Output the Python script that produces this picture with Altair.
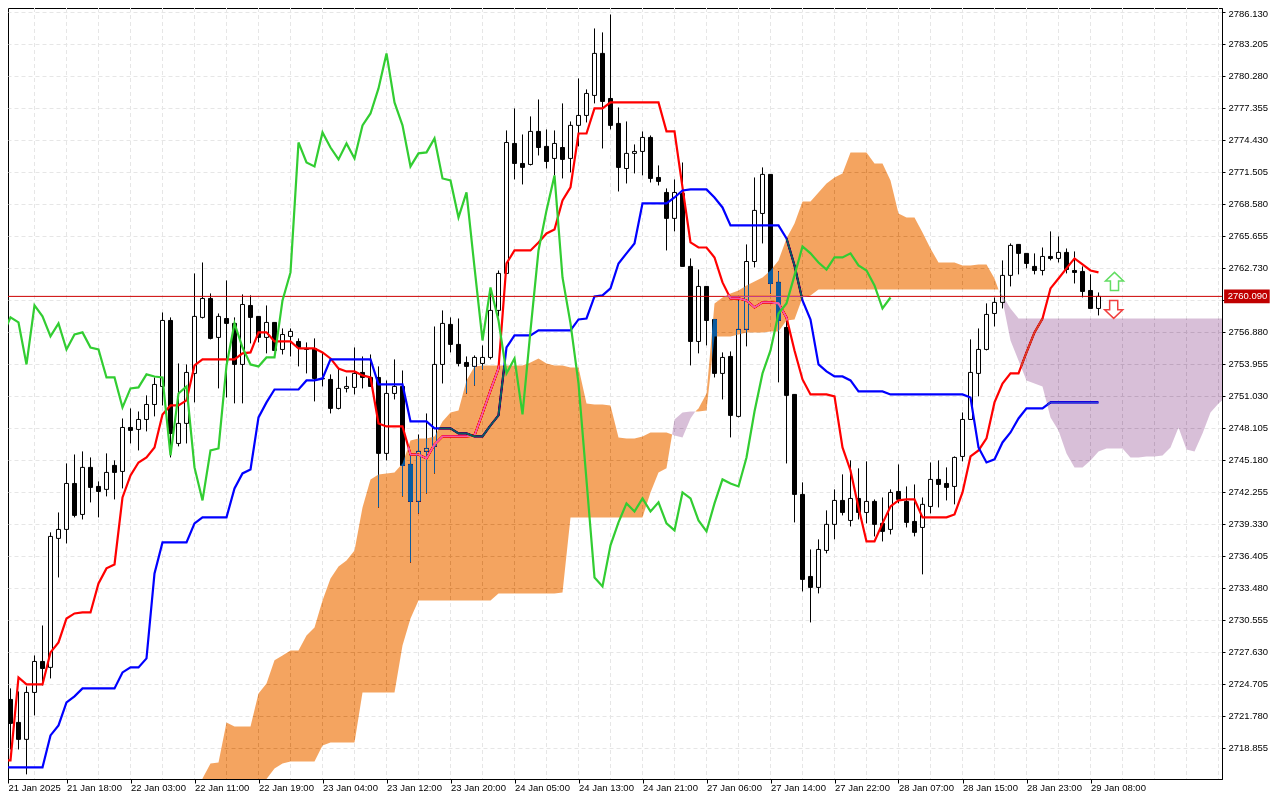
import altair as alt
import pandas as pd

opens = [2728.74,2723.25,2721.15,2719.60,2723.89,2726.72,2726.18,2737.97,2738.79,2742.99,2740.16,2744.46,2742.72,2742.45,2744.64,2744.09,2748.11,2747.93,2748.84,2750.21,
 2751.86,2757.89,2746.65,2748.48,2753.05,2758.17,2759.90,2756.34,2758.07,2757.62,2753.87,2759.26,2758.26,2756.34,2757.71,2755.24,2756.43,2755.97,2755.33,2755.33,
 2752.59,2752.50,2749.85,2751.68,2751.77,2753.14,2752.68,2752.68,2745.74,2751.22,2751.86,2744.73,2741.35,2745.92,2746.38,2753.87,2757.53,2755.70,2754.05,2753.69,
 2753.96,2754.51,2758.81,2762.19,2774.07,2772.24,2772.15,2775.17,2773.80,2772.70,2773.70,2772.70,2775.72,2776.63,2778.46,2782.30,2778.18,2775.90,2771.78,2773.16,
 2773.34,2774.62,2770.96,2769.59,2767.22,2769.50,2762.83,2755.97,2761.00,2757.98,2753.05,2754.60,2749.12,2757.07,2763.28,2767.67,2771.24,2761.37,2757.25,2751.13,
 2741.99,2734.49,2733.49,2736.87,2739.25,2741.44,2739.61,2741.62,2740.34,2741.35,2739.34,2738.79,2742.26,2741.35,2739.52,2738.97,2740.89,2743.36,2742.99,2742.72,
 2745.46,2748.84,2753.05,2755.24,2758.53,2759.54,2762.01,2764.84,2764.02,2762.83,2762.46,2763.74,2763.56,2764.11,2762.46,2762.37,2760.63,2758.99]
highs = [2728.74,2724.26,2723.98,2724.44,2727.27,2730.01,2738.52,2740.34,2744.82,2745.64,2745.92,2745.37,2743.18,2745.74,2745.10,2748.93,2749.85,2749.57,2751.04,2752.68,
 2758.62,2758.17,2753.96,2753.87,2762.19,2763.19,2760.36,2758.53,2761.55,2758.17,2760.27,2760.18,2758.26,2759.26,2757.71,2757.16,2757.16,2756.25,2755.88,2756.25,
 2754.97,2752.96,2753.50,2752.77,2755.42,2754.60,2754.78,2753.69,2752.41,2754.33,2753.32,2745.55,2747.47,2749.39,2757.34,2758.81,2758.17,2758.07,2754.60,2754.69,
 2755.61,2760.82,2762.46,2775.26,2777.27,2774.89,2776.54,2778.09,2775.35,2775.26,2777.73,2776.08,2780.01,2779.01,2784.58,2784.22,2785.86,2777.36,2776.08,2773.98,
 2775.17,2774.80,2772.06,2769.96,2770.78,2772.33,2763.56,2762.55,2761.00,2757.98,2754.97,2755.06,2759.72,2764.84,2770.96,2771.88,2771.24,2762.37,2757.98,2751.13,
 2743.09,2736.96,2737.88,2740.53,2742.45,2743.82,2745.10,2744.37,2745.01,2741.53,2741.71,2742.45,2744.73,2742.72,2742.90,2741.71,2744.91,2745.10,2744.46,2745.46,
 2749.48,2756.16,2757.16,2759.45,2759.99,2763.38,2764.93,2764.84,2764.02,2764.02,2764.56,2766.03,2765.57,2764.47,2764.20,2762.83,2762.10,2760.45]
lows = [2723.16,2718.68,2718.68,2716.40,2721.79,2724.53,2725.17,2734.40,2737.51,2739.89,2739.70,2741.26,2739.89,2741.81,2741.53,2742.54,2746.65,2746.01,2747.75,2749.12,
 2750.12,2745.37,2746.38,2746.65,2750.40,2758.07,2756.16,2751.68,2750.85,2750.31,2750.31,2755.79,2755.88,2754.88,2755.15,2754.78,2754.60,2753.69,2753.05,2750.49,
 2751.86,2749.39,2749.76,2751.31,2751.13,2751.68,2751.86,2740.80,2745.10,2750.67,2741.81,2735.77,2740.25,2742.08,2743.91,2752.13,2754.97,2753.69,2751.22,2751.95,
 2753.41,2754.33,2758.26,2762.19,2770.78,2770.32,2772.06,2772.97,2771.78,2771.15,2770.87,2771.42,2773.80,2775.99,2777.73,2773.61,2775.35,2769.68,2770.41,2771.33,
 2771.15,2770.50,2770.23,2764.29,2766.03,2762.83,2753.78,2754.88,2755.61,2752.68,2750.67,2747.20,2749.03,2755.52,2762.74,2764.93,2760.36,2752.23,2744.82,2739.43,
 2733.12,2730.29,2732.94,2736.60,2737.88,2740.07,2739.06,2739.70,2739.34,2738.15,2737.69,2738.33,2741.17,2738.97,2738.15,2734.68,2740.25,2740.80,2741.44,2741.08,
 2745.01,2748.84,2750.95,2755.15,2757.34,2758.99,2761.00,2762.10,2762.65,2762.10,2762.01,2763.38,2763.19,2762.19,2761.27,2760.00,2758.99,2758.35]
closes = [2723.16,2721.06,2719.60,2723.89,2726.72,2726.08,2738.15,2738.79,2742.99,2740.07,2744.46,2742.63,2742.26,2744.00,2744.00,2748.11,2747.84,2748.84,2750.21,2752.04,
 2757.89,2747.56,2748.48,2753.14,2758.26,2759.90,2756.25,2758.26,2757.62,2753.87,2759.35,2758.17,2756.34,2757.71,2755.15,2756.61,2756.89,2755.42,2755.24,2752.59,
 2752.55,2749.85,2751.68,2751.86,2753.05,2752.68,2751.86,2745.74,2751.22,2751.86,2744.64,2741.35,2745.92,2746.19,2753.87,2757.62,2755.70,2753.96,2753.69,2754.51,
 2754.51,2758.81,2762.19,2774.16,2772.24,2771.88,2775.17,2773.70,2772.42,2774.07,2772.61,2775.72,2776.63,2778.64,2782.30,2777.91,2775.72,2771.88,2773.16,2773.34,
 2774.62,2770.87,2770.60,2767.22,2769.59,2762.83,2755.97,2761.00,2757.89,2753.05,2754.51,2749.21,2757.07,2763.28,2767.95,2771.24,2761.27,2757.89,2751.04,2741.99,
 2734.22,2733.49,2736.96,2739.25,2741.44,2740.34,2741.62,2740.34,2741.35,2739.25,2738.61,2742.17,2741.53,2739.43,2738.52,2741.08,2743.36,2742.90,2742.63,2745.37,
 2748.84,2753.14,2755.24,2758.44,2759.54,2762.01,2764.75,2764.02,2763.10,2762.46,2763.74,2763.56,2764.11,2762.55,2762.28,2760.54,2758.99,2760.09]

tenkan = [2717.68,2717.68,2725.26,2724.62,2724.62,2724.62,2727.55,2728.46,2730.65,2731.11,2731.20,2731.20,2733.85,2735.23,2735.59,2741.71,2743.73,2744.91,2745.37,2746.28,
 2749.30,2750.12,2750.12,2750.58,2753.78,2754.33,2754.33,2754.33,2754.33,2754.33,2754.88,2754.97,2756.80,2756.80,2755.97,2755.97,2755.97,2755.33,2755.33,2755.33,
 2754.97,2754.42,2753.50,2753.23,2753.23,2752.87,2752.68,2748.48,2748.20,2748.20,2748.20,2745.64,2745.64,2745.28,2746.56,2747.29,2747.29,2747.29,2747.29,2747.38,
 2749.39,2751.49,2753.50,2763.10,2764.29,2764.29,2764.29,2765.02,2765.84,2766.21,2768.86,2770.05,2774.98,2774.98,2777.27,2777.27,2777.82,2777.82,2777.82,2777.82,
 2777.82,2777.82,2777.82,2775.17,2775.17,2770.05,2765.02,2764.56,2764.56,2763.65,2761.37,2759.90,2759.90,2759.72,2759.08,2759.54,2759.54,2759.45,2758.17,2755.15,
 2752.50,2751.13,2751.13,2751.13,2750.95,2746.28,2744.18,2740.80,2737.69,2737.69,2739.34,2740.89,2741.44,2741.53,2741.53,2739.89,2739.89,2739.89,2739.89,2740.16,
 2742.17,2745.46,2746.01,2747.11,2750.40,2752.13,2753.05,2753.05,2754.97,2756.80,2758.07,2760.82,2761.73,2762.65,2763.56,2763.01,2762.46,2762.28]
kijun = [2717.04,2717.04,2717.04,2717.04,2717.04,2717.04,2719.96,2720.88,2722.98,2723.53,2724.26,2724.26,2724.26,2724.26,2724.26,2725.72,2726.18,2726.18,2727.00,2734.77,
 2737.60,2737.60,2737.60,2737.60,2739.34,2739.89,2739.89,2739.89,2739.89,2742.54,2743.91,2744.27,2749.03,2750.40,2751.58,2751.58,2751.58,2751.58,2752.41,2752.41,
 2752.59,2754.33,2754.33,2754.33,2754.33,2754.33,2754.33,2752.04,2752.04,2752.04,2752.04,2748.66,2748.66,2748.66,2748.02,2748.02,2748.02,2747.56,2747.56,2747.29,
 2747.29,2748.30,2749.21,2755.42,2756.52,2756.52,2756.52,2756.98,2756.98,2756.98,2756.98,2756.98,2757.98,2758.07,2760.09,2760.18,2760.82,2763.10,2764.02,2764.93,
 2768.59,2768.59,2768.59,2768.59,2769.13,2769.77,2769.87,2769.87,2769.87,2769.13,2768.22,2766.58,2766.58,2766.58,2766.58,2766.58,2766.58,2766.58,2765.39,2762.92,
 2759.72,2757.98,2753.87,2753.23,2752.77,2752.77,2752.41,2751.40,2751.40,2751.40,2751.40,2751.13,2751.13,2751.13,2751.13,2751.13,2751.13,2751.13,2751.13,2751.13,
 2751.13,2750.85,2746.28,2744.91,2745.19,2746.74,2747.65,2748.93,2749.85,2749.85,2749.85,2750.40,2750.40,2750.40,2750.40,2750.40,2750.40,2750.40]
chikou = [2756.52,2758.17,2757.71,2753.87,2759.26,2758.26,2756.43,2757.62,2755.24,2756.61,2756.80,2755.42,2755.24,2752.68,2752.68,2749.94,2751.68,2751.77,2752.96,2752.77,
 2752.68,2745.55,2751.22,2751.86,2744.46,2741.44,2746.01,2746.19,2753.78,2757.62,2755.42,2753.87,2753.69,2754.51,2754.51,2759.72,2762.28,2774.16,2772.33,2771.97,
 2775.08,2773.70,2772.61,2774.07,2772.70,2775.72,2776.81,2779.10,2782.30,2777.82,2775.72,2771.97,2773.16,2773.25,2774.53,2770.87,2770.69,2767.31,2769.59,2762.74,
 2756.06,2760.91,2757.89,2753.05,2754.42,2749.30,2756.98,2764.29,2767.95,2771.15,2761.82,2757.62,2752.13,2743.27,2734.40,2733.58,2737.33,2739.43,2741.17,2740.43,
 2741.62,2740.43,2741.26,2739.34,2738.70,2742.17,2741.62,2739.61,2738.61,2741.17,2743.36,2742.99,2742.72,2745.37,2749.57,2753.05,2755.15,2758.53,2759.45,2762.01,
 2764.66,2764.02,2763.19,2762.55,2763.65,2763.65,2764.02,2762.92,2762.46,2761.09,2758.99,2759.99]

cloud1_x = list(range(25, 84)) + [83.7]
cloud1_top = [2716.03,2717.40,2717.49,2721.15,2720.78,2720.78,2720.78,2723.80,2724.71,2726.82,2727.27,2727.73,2727.73,2729.10,2729.83,2732.30,2734.31,2735.41,2735.96,2736.87,
 2740.80,2743.36,2743.82,2743.91,2744.00,2744.82,2746.92,2747.11,2747.11,2747.29,2748.66,2749.48,2749.67,2752.41,2753.69,2753.78,2753.78,2753.78,2753.78,2753.78,
 2753.78,2754.05,2754.42,2753.96,2753.78,2753.78,2753.60,2753.60,2750.31,2750.21,2750.21,2750.12,2747.20,2747.11,2747.11,2747.29,2747.65,2747.65,2747.65,2747.47]
cloud1_bot = [2715.98]*9 + [2716.94,2717.40,2717.58,2717.58,2717.58,2717.58,2719.05,2719.32,2719.32,2719.32,2719.32,
 2723.89,2723.89,2723.89,2723.89,2723.89,2728.19,2730.65] + [2732.30]*10 + [2732.94]*8 + [2733.03] + [2739.89]*10 + [2742.17,2744.00,2744.37,2747.47]

cloud2_x = [83.7, 84, 85, 86, 86.6]
cloud2_top = [2747.47,2748.84,2749.48,2749.57,2749.57]
cloud2_bot = [2747.47,2747.38,2747.20,2748.93,2749.57]

cloud3_x = [86.6] + list(range(87, 125)) + [124.5]
cloud3_top = [2749.57,2749.85,2751.22,2759.45,2759.99,2760.36,2760.63,2761.09,2761.46,2761.82,2762.46,2763.38,2765.39,2766.76,2768.77,2768.77,2769.59,2770.41,2770.96,2771.33,
 2773.25,2773.25,2773.25,2772.24,2772.24,2770.69,2767.67,2767.31,2767.31,2765.93,2764.47,2763.19,2763.19,2763.19,2762.92,2762.92,2763.01,2763.01,2761.73,2760.73]
cloud3_bot = [2749.57,2749.57,2749.67,2756.43,2756.43,2756.43,2756.61,2756.80,2756.80,2756.80,2756.89,2756.89,2757.89,2757.98,2759.99,2760.18] + [2760.73]*24

cloud4_x = [124.5] + list(range(125, 153)) + [152.4375]
cloud4_top = [2760.73,2760.18,2758.99] + [2758.07]*27
cloud4_bot = [2760.73,2759.72,2756.06,2754.24,2752.41,2752.13,2751.86,2749.03,2747.84,2745.74,2744.46,2744.46,2745.10,2745.92,2746.19,2746.19,2746.19,2745.37,2745.37,2745.46,
 2745.46,2745.55,2746.28,2748.11,2746.10,2745.92,2747.56,2749.48,2750.31,2750.58]

price_ticks = [2786.130,2783.205,2780.280,2777.355,2774.430,2771.505,2768.580,2765.655,2762.730,2759.805,2756.880,2753.955,
 2751.030,2748.105,2745.180,2742.255,2739.330,2736.405,2733.480,2730.555,2727.630,2724.705,2721.780,2718.855]
time_labels = ["21 Jan 2025","21 Jan 18:00","22 Jan 03:00","22 Jan 11:00","22 Jan 19:00","23 Jan 04:00","23 Jan 12:00","23 Jan 20:00",
 "24 Jan 05:00","24 Jan 13:00","24 Jan 21:00","27 Jan 06:00","27 Jan 14:00","27 Jan 22:00","28 Jan 07:00","28 Jan 15:00","28 Jan 23:00","29 Jan 08:00"]
last_price = 2760.09

FONT = "Liberation Sans"
X_MIN, X_MAX = 0.6875, 152.4375
xs = alt.Scale(domain=[X_MIN, X_MAX], nice=False, zero=False, padding=0)
ys = alt.Scale(domain=[2715.977, 2786.45], nice=False, zero=False, padding=0)
tick_vals = [X_MIN] + [8 * k for k in range(1, len(time_labels))]
label_expr = "[" + ",".join("'%s'" % t for t in time_labels) + "][round(datum.value/8)]"

x_axis = alt.Axis(values=tick_vals, labelExpr=label_expr, labelAlign="left", labelBaseline="middle", title=None,
    labelPadding=4, labelOverlap=False, labelFlush=False, labelBound=False, grid=False,
    tickSize=4, tickColor="black", domainColor="black", labelFont=FONT, labelFontSize=9.5, labelColor="black")
y_axis = alt.Axis(orient="right", values=price_ticks, format=".3f", grid=True, gridColor="#e6e6e6", gridDash=[4, 3], title=None,
    tickSize=3, tickColor="black", domainColor="black", labelPadding=3, labelFont=FONT, labelFontSize=9.5, labelColor="black",
    labelOffset={"condition": {"test": "datum.value > 2785", "value": 2}, "value": 0},
    labelOverlap=False, labelBound=False, labelFlush=False)

X = lambda f="x": alt.X(f"{f}:Q", scale=xs, axis=x_axis)
Y = lambda f="y": alt.Y(f"{f}:Q", scale=ys, axis=y_axis)

n = len(opens)
candles = pd.DataFrame({"x": range(n), "o": opens, "h": highs, "l": lows, "c": closes})
candles["fill"] = ["white" if c >= o else "black" for o, c in zip(opens, closes)]

grid_x = pd.DataFrame({"x": [4 * k for k in range(1, 39)]})
vgrid = alt.Chart(grid_x).mark_rule(color="#e6e6e6", strokeWidth=1, strokeDash=[4, 3]).encode(x=X())

wicks = alt.Chart(candles).mark_rule(color="black", strokeWidth=1).encode(x=X(), y=Y("h"), y2="l:Q")
bodies = alt.Chart(candles).mark_bar(width=4, stroke="black", strokeWidth=1, orient="vertical").encode(
    x=X(), y=Y("o"), y2="c:Q", fill=alt.Fill("fill:N", scale=None))

def line(values, colour):
    d = pd.DataFrame({"x": range(len(values)), "y": values})
    return alt.Chart(d).mark_line(color=colour, strokeWidth=2.2).encode(x=X(), y=Y())

def cloud(cx, top, bot, colour):
    d = pd.DataFrame({"x": cx, "t": top, "b": bot})
    return alt.Chart(d).mark_area(color=colour, blend="difference", opacity=1).encode(x=X(), y=Y("t"), y2="b:Q")

price_line = alt.Chart(pd.DataFrame({"y": [last_price]})).mark_rule(color="#cc0000", strokeWidth=1).encode(y=Y())

tag = pd.DataFrame({"x": [152.7], "x2": [158.4], "y": [last_price + 0.62], "y2": [last_price - 0.62],
                    "tx": [153.15], "ty": [last_price], "s": ["2760.090"]})
tag_box = alt.Chart(tag).mark_rect(color="#c00000").encode(x=X(), x2="x2:Q", y=Y(), y2="y2:Q")
tag_text = alt.Chart(tag).mark_text(align="left", baseline="middle", color="white", font=FONT, fontSize=9.5).encode(
    x=X("tx"), y=Y("ty"), text="s:N")

UP = "M0,-1 L1,-0.05 L0.45,-0.05 L0.45,1 L-0.45,1 L-0.45,-0.05 L-1,-0.05 Z"
DOWN = "M0,1 L1,0.05 L0.45,0.05 L0.45,-1 L-0.45,-1 L-0.45,0.05 L-1,0.05 Z"
up_arrow = alt.Chart(pd.DataFrame({"x": [139.0], "y": [2761.46]})).mark_point(
    shape=UP, size=324, filled=True, fill="white", stroke="#63dd63", strokeWidth=1.5, opacity=1).encode(x=X(), y=Y())
down_arrow = alt.Chart(pd.DataFrame({"x": [138.9], "y": [2758.90]})).mark_point(
    shape=DOWN, size=324, filled=True, fill="white", stroke="#f04040", strokeWidth=1.5, opacity=1).encode(x=X(), y=Y())

chart = alt.layer(
    vgrid, wicks, bodies,
    line(tenkan, "#ff0000"), line(kijun, "#0000ff"), price_line,
    cloud(cloud1_x, cloud1_top, cloud1_bot, "#0b5b9f"),
    cloud(cloud2_x, cloud2_top, cloud2_bot, "#274027"),
    cloud(cloud3_x, cloud3_top, cloud3_bot, "#0b5b9f"),
    cloud(cloud4_x, cloud4_top, cloud4_bot, "#274027"),
    line(chikou, "#32cd32"),
    up_arrow, down_arrow, tag_box, tag_text,
).properties(
    width=1214, height=771, background="white", autosize=alt.AutoSizeParams(type="none"),
    padding={"left": 0, "top": 0, "right": 50, "bottom": 13},
).configure_view(stroke="black", strokeWidth=1)

chart.save("out.html", embed_options={"renderer": "svg", "actions": False})
